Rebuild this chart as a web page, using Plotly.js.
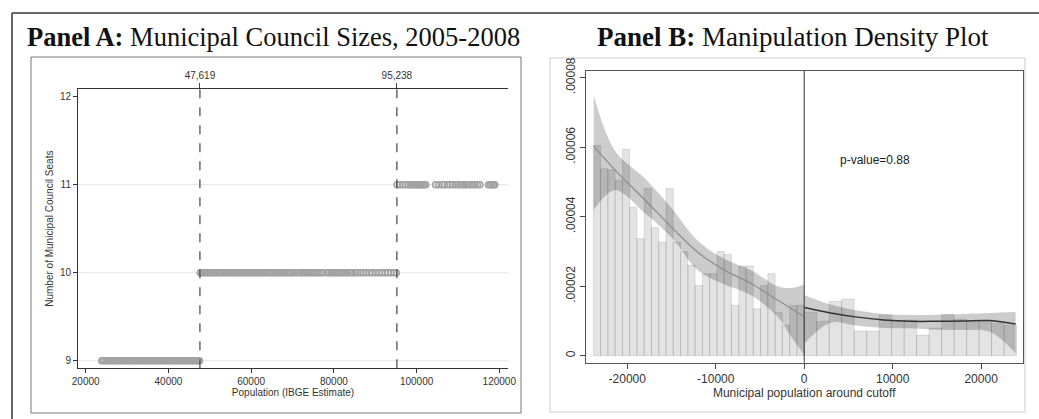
<!DOCTYPE html>
<html>
<head>
<meta charset="utf-8">
<script src="https://cdn.plot.ly/plotly-3.0.1.min.js"></script>
<style>html,body{margin:0;padding:0;background:#fff;}#chart{width:1039px;height:419px;}</style>
</head>
<body>
<div id="chart"></div>
<script>
// ---------- Panel A data ----------
const seats9Pop = [23900, 24300, 24800, 25200, 25700, 26100, 26600, 27000, 27500, 27900, 28400, 28800, 29300, 29700, 30200, 30600, 31100, 31500, 32000, 32400, 32900, 33300, 33800, 34200, 34700, 35100, 35600, 36000, 36500, 36900, 37400, 37800, 38300, 38700, 39200, 39600, 40100, 40500, 41000, 41400, 41900, 42300, 42800, 43200, 43700, 44100, 44600, 45000, 45500, 45900, 46400, 46800, 47200, 47500];
const seats10Pop = [47700, 48100, 48500, 48900, 49400, 49800, 50200, 50700, 51100, 51500, 52000, 52400, 52800, 53300, 53700, 54100, 54600, 55000, 55500, 55900, 56300, 56800, 57200, 57700, 58100, 58600, 59000, 59500, 59900, 60400, 60800, 61300, 61700, 62200, 62600, 63100, 63500, 64000, 64500, 64900, 65400, 65800, 66300, 66800, 67200, 67700, 68100, 68600, 69100, 69500, 70000, 70500, 71300, 71800, 72300, 72800, 73300, 73800, 74300, 74800, 75300, 75800, 76300, 76800, 77300, 78300, 78800, 79300, 79800, 80300, 80800, 81300, 81800, 82300, 82900, 83400, 84000, 84600, 85200, 85800, 86500, 87100, 87800, 88600, 89300, 90100, 90900, 91600, 92400, 93100, 93800, 94500, 95100];
const seats11Pop = [95300, 95900, 96600, 97300, 98000, 98500, 99000, 99400, 99800, 100200, 100600, 101000, 101400, 101800, 102200, 104600, 105300, 106200, 106800, 107500, 108100, 108800, 109400, 110000, 110600, 111200, 111700, 112300, 112900, 113500, 114100, 114700, 115300, 117400, 117800, 118200, 118600, 118900];
const seatLevels = [9, 10, 11];
const cutoffs = [47619, 95238];
const cutoffLabels = ['47,619', '95,238'];
const popTicks = [20000, 40000, 60000, 80000, 100000, 120000];
const popTickText = ['20000', '40000', '60000', '80000', '100000', '120000'];
const seatTicks = [9, 10, 11, 12];

// ---------- Panel B data ----------
const leftBinStart = -23842, leftBinWidth = 822;
const leftDensity = [6.05e-5, 5.38e-5, 5.35e-5, 5.05e-5, 5.94e-5, 4.27e-5, 3.37e-5, 4.81e-5, 3.69e-5, 3.27e-5, 4.81e-5, 3.27e-5, 3.0e-5, 2.6e-5, 2.02e-5, 2.36e-5, 2.36e-5, 3.0e-5, 2.92e-5, 1.45e-5, 2.58e-5, 2.58e-5, 1.35e-5, 2.02e-5, 2.36e-5, 1.24e-5, 0.88e-5, 1.45e-5, 1.45e-5];
const rightBinStart = 0, rightBinWidth = 1412;
const rightDensity = [1.25e-5, 0.99e-5, 1.56e-5, 1.63e-5, 0.71e-5, 0.71e-5, 1.17e-5, 1.0e-5, 1.03e-5, 0.595e-5, 0.79e-5, 1.19e-5, 1.05e-5, 0.98e-5, 0.98e-5, 0.93e-5, 0.88e-5];

const leftFitX = [-23800, -21000, -18000, -15000, -12000, -9000, -6000, -3000, 0];
const leftFit = [6.03e-5, 5.24e-5, 4.48e-5, 3.7e-5, 2.97e-5, 2.46e-5, 2.08e-5, 1.6e-5, 1.12e-5];
const leftCIX = [-23800, -21400, -18000, -15000, -12000, -9000, -6000, -3000, -1500, 0];
const leftUpper = [7.5e-5, 5.9e-5, 5.1e-5, 4.25e-5, 3.3e-5, 2.78e-5, 2.46e-5, 2.0e-5, 1.95e-5, 2.05e-5];
const leftLower = [4.19e-5, 4.76e-5, 4.1e-5, 3.4e-5, 2.45e-5, 2.05e-5, 1.74e-5, 1.12e-5, 0.55e-5, 0.02e-5];

const rightFitX = [0, 3000, 6000, 9000, 12000, 15000, 18000, 21000, 23900];
const rightFit = [1.39e-5, 1.23e-5, 1.11e-5, 1.03e-5, 0.99e-5, 0.99e-5, 1.0e-5, 1.01e-5, 0.91e-5];
const rightUpper = [1.75e-5, 1.47e-5, 1.3e-5, 1.2e-5, 1.17e-5, 1.18e-5, 1.2e-5, 1.23e-5, 1.26e-5];
const rightLower = [0.35e-5, 0.95e-5, 0.86e-5, 0.8e-5, 0.79e-5, 0.75e-5, 0.74e-5, 0.69e-5, 0.07e-5];

const densTicks = [0, 2e-5, 4e-5, 6e-5, 8e-5];
const densTickText = ['0', '.00002', '.00004', '.00006', '.00008'];
const centTicks = [-20000, -10000, 0, 10000, 20000];
const centTickText = ['-20000', '-10000', '0', '10000', '20000'];
const pValueText = 'p-value=0.88';
const pValuePos = [7955, 5.62e-5];

// ---------- helpers ----------
const W = 1039, H = 419;
const px = v => v / W;
const py = v => 1 - v / H;
const binCenters = (start, width, n) => Array.from({length: n}, (_, i) => start + width * (i + 0.5));

const markerStyle = {symbol: 'circle-open', size: 6, color: '#a2a2a2', line: {width: 1.6, color: '#a2a2a2'}};
const traces = [];
[seats9Pop, seats10Pop, seats11Pop].forEach((arr, i) => {
  traces.push({type: 'scatter', mode: 'markers', x: arr, y: arr.map(() => seatLevels[i]),
    xaxis: 'x', yaxis: 'y', marker: markerStyle, hoverinfo: 'skip'});
});
traces.push({type: 'scatter', mode: 'markers', x: cutoffs, y: [null, null], xaxis: 'x3', yaxis: 'y', hoverinfo: 'skip', marker: {opacity: 0}});

// Panel B histogram
const barStyle = {color: 'rgba(0,0,0,0.11)', line: {color: 'rgba(0,0,0,0.10)', width: 1}};
traces.push({type: 'bar', x: binCenters(leftBinStart, leftBinWidth, leftDensity.length), y: leftDensity, width: leftBinWidth,
  xaxis: 'x2', yaxis: 'y2', marker: barStyle, hoverinfo: 'skip'});
traces.push({type: 'bar', x: binCenters(rightBinStart, rightBinWidth, rightDensity.length), y: rightDensity, width: rightBinWidth,
  xaxis: 'x2', yaxis: 'y2', marker: barStyle, hoverinfo: 'skip'});
// CI bands (lower, then upper filled to lower)
function addBand(xs, lo, up) {
  traces.push({type: 'scatter', mode: 'lines', x: xs, y: lo, line: {width: 0, shape: 'spline'}, xaxis: 'x2', yaxis: 'y2', hoverinfo: 'skip'});
  traces.push({type: 'scatter', mode: 'lines', x: xs, y: up, fill: 'tonexty', fillcolor: 'rgba(0,0,0,0.2)', line: {width: 0, shape: 'spline'},
    xaxis: 'x2', yaxis: 'y2', hoverinfo: 'skip'});
}
addBand(leftCIX, leftLower, leftUpper);
addBand(rightFitX, rightLower, rightUpper);
traces.push({type: 'scatter', mode: 'lines', x: leftFitX, y: leftFit, line: {color: '#8c8c8c', width: 1.2, shape: 'spline'}, xaxis: 'x2', yaxis: 'y2', hoverinfo: 'skip'});
traces.push({type: 'scatter', mode: 'lines', x: rightFitX, y: rightFit, line: {color: '#333', width: 1.5, shape: 'spline'}, xaxis: 'x2', yaxis: 'y2', hoverinfo: 'skip'});

const sans = 'Liberation Sans, Arial, sans-serif';
const serif = 'Liberation Serif, Times New Roman, serif';

const shapes = [];
// outer frame
shapes.push({type: 'line', xref: 'paper', yref: 'paper', x0: px(12), x1: px(1039), y0: py(13), y1: py(13), line: {color: '#666', width: 2}});
shapes.push({type: 'line', xref: 'paper', yref: 'paper', x0: px(12), x1: px(12), y0: py(13), y1: py(419), line: {color: '#666', width: 2}});
// panel boxes
shapes.push({type: 'rect', xref: 'paper', yref: 'paper', x0: px(31), x1: px(521), y0: py(57), y1: py(413), line: {color: '#777', width: 1}, layer: 'below'});
shapes.push({type: 'rect', xref: 'paper', yref: 'paper', x0: px(550), x1: px(1025), y0: py(58), y1: py(412), line: {color: '#ddd', width: 1.5}, layer: 'below'});
// gridlines panel A
seatLevels.forEach(s => shapes.push({type: 'line', xref: 'x domain', yref: 'y', x0: 0, x1: 1, y0: s, y1: s, line: {color: '#e4e4e4', width: 1}, layer: 'below'}));
// cutoff dashed lines
cutoffs.forEach(c => shapes.push({type: 'line', xref: 'x', yref: 'y domain', x0: c, x1: c, y0: 0, y1: 1, line: {color: '#444', width: 1.2, dash: 'dash'}}));
// panel B zero line
shapes.push({type: 'line', xref: 'x2', yref: 'y2 domain', x0: 0, x1: 0, y0: 0, y1: 1, line: {color: '#333', width: 1}});

const layout = {
  width: W, height: H, margin: {l: 0, r: 0, t: 0, b: 0}, paper_bgcolor: '#fff', plot_bgcolor: 'rgba(0,0,0,0)',
  showlegend: false, barmode: 'overlay', bargap: 0,
  font: {family: sans, color: '#333'},
  xaxis: {domain: [px(78), px(508)], range: [18138, 122103], anchor: 'y', tickvals: popTicks, ticktext: popTickText, ticks: 'outside', ticklen: 4, tickcolor: '#333',
    tickfont: {size: 10, color: '#333'}, showline: true, linecolor: '#333', linewidth: 1, showgrid: false, zeroline: false,
    title: {text: 'Population (IBGE Estimate)', font: {size: 10, color: '#333'}, standoff: 0}},
  xaxis3: {overlaying: 'x', anchor: 'y', side: 'top', range: [18138, 122103], tickvals: cutoffs, ticktext: cutoffLabels, ticks: 'outside', ticklen: 5, tickcolor: '#444',
    tickfont: {size: 10, color: '#333'}, showline: true, linecolor: '#333', linewidth: 1, showgrid: false, zeroline: false},
  yaxis: {domain: [1 - 368.3 / H, 1 - 89 / H], range: [8.914, 12.087], anchor: 'x', tickvals: seatTicks, ticks: 'outside', ticklen: 4, tickcolor: '#333',
    tickfont: {size: 10, color: '#333'}, showline: true, linecolor: '#333', linewidth: 1, showgrid: false, zeroline: false,
    title: {text: 'Number of Municipal Council Seats', font: {size: 10, color: '#333'}, standoff: 4}},
  xaxis2: {domain: [px(585.7), px(1022.7)], range: [-24700, 24700], anchor: 'y2', tickvals: centTicks, ticktext: centTickText, ticks: 'outside', ticklen: 5, tickcolor: '#444',
    tickfont: {size: 12, color: '#333'}, showline: true, mirror: true, linecolor: '#555', linewidth: 1, showgrid: false, zeroline: false,
    title: {text: 'Municipal population around cutoff', font: {size: 12, color: '#333'}, standoff: 0}},
  yaxis2: {domain: [1 - 362.7 / H, 1 - 70.7 / H], range: [-2.01e-6, 8.2e-5], anchor: 'x2', tickvals: densTicks, ticktext: densTickText, tickangle: -90,
    ticks: 'outside', ticklen: 5, tickcolor: '#444', tickfont: {size: 12, color: '#333'}, showline: true, mirror: true, linecolor: '#555', linewidth: 1,
    showgrid: false, zeroline: false},
  shapes: shapes,
  annotations: [
    {xref: 'paper', yref: 'paper', x: px(273.5), y: py(37), text: '<b>Panel A:</b> Municipal Council Sizes, 2005-2008', showarrow: false,
      font: {family: serif, size: 26.5, color: '#111'}, xanchor: 'center', yanchor: 'middle'},
    {xref: 'paper', yref: 'paper', x: px(792.5), y: py(37), text: '<b>Panel B:</b> Manipulation Density Plot', showarrow: false,
      font: {family: serif, size: 27, color: '#111'}, xanchor: 'center', yanchor: 'middle'},
    {xref: 'x2', yref: 'y2', x: pValuePos[0], y: pValuePos[1], text: pValueText, showarrow: false, font: {size: 12, color: '#222'}}
  ]
};

Plotly.newPlot('chart', traces, layout, {staticPlot: true, displayModeBar: false});
</script>
</body>
</html>
